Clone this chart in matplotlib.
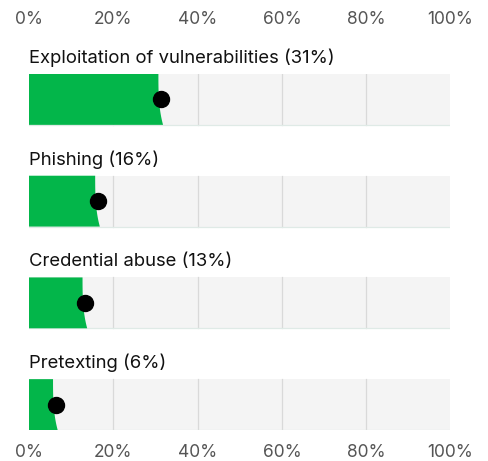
import numpy as np
import matplotlib.pyplot as plt
from matplotlib.patches import Polygon

categories = ["Exploitation of vulnerabilities", "Phishing", "Credential abuse", "Pretexting"]
values = [31, 16, 13, 6]
ticks = [0, 20, 40, 60, 80, 100]
tick_labels = [f"{t}%" for t in ticks]

GREEN = "#03b64a"
BG = "#f4f4f4"
GRID = "#d9d9d9"

plt.rcParams['font.family'] = ['Inter', 'DejaVu Sans']

fig = plt.figure(figsize=(4.89, 4.61), dpi=100)
W, H = 489, 461
ax = fig.add_axes([29 / W, 1 - 430 / H, (450.5 - 29) / W, (430 - 74) / H])
ax.set_xlim(0, 100)
ax.set_ylim(3.25, -0.25)

bar_h = 0.5
for i, (cat, v) in enumerate(zip(categories, values)):
    top, bot = i - bar_h / 2, i + bar_h / 2
    ax.add_patch(plt.Rectangle((0, top), 100, bar_h, color=BG, zorder=1, lw=0))
    for g in ticks[1:-1]:
        ax.plot([g, g], [top, bot], color=GRID, lw=0.9, zorder=2)
    ax.plot([0, 100], [bot, bot], color="#dfeae6", lw=0.9, zorder=2)
    ax.plot([100, 100], [top, bot], color="#e4e4e4", lw=0.8, zorder=2)
    # green fill, right edge flares a little toward the bottom
    t = np.linspace(0, 1, 20)
    edge_x = v - 0.3 + 1.1 * t ** 3
    edge_y = top + t * bar_h
    pts = [(0, top)] + list(zip(edge_x, edge_y)) + [(0, bot)]
    ax.add_patch(Polygon(pts, closed=True, color=GREEN, lw=0, zorder=3))
    ax.plot(v + 0.3, i, "o", color="black", ms=11.5, zorder=4)
    ax.text(0, top - 0.11, f"{cat} ({v}%)", fontsize=13.3, color="#111111",
            va="baseline", ha="left")

for s in ax.spines.values():
    s.set_visible(False)
ax.set_yticks([])
ax.set_xticks(ticks)
ax.set_xticklabels(tick_labels)
ax.tick_params(axis="x", length=0, pad=10, labelsize=12.5, labelcolor="#555555")

sec = ax.secondary_xaxis("top")
sec.set_xticks(ticks)
sec.set_xticklabels(tick_labels)
sec.tick_params(axis="x", length=0, pad=33, labelsize=12.5, labelcolor="#555555")
for s in sec.spines.values():
    s.set_visible(False)

fig.savefig("out.png", dpi=100)
